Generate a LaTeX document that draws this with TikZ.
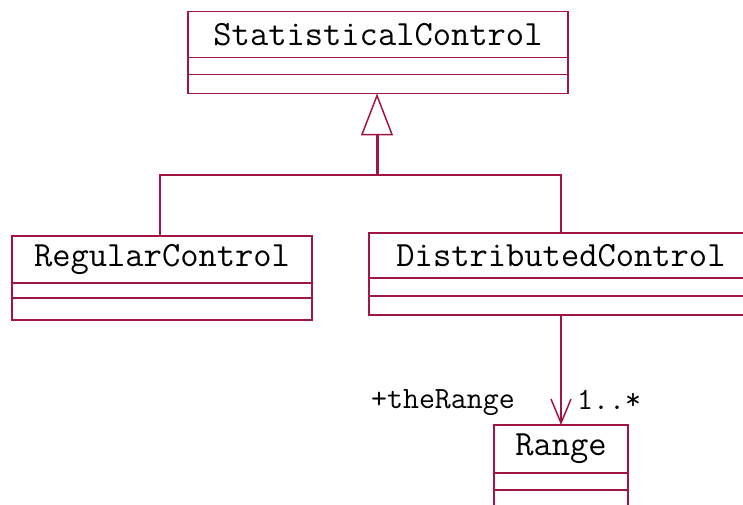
\documentclass[tikz,border=0pt]{standalone}
\usetikzlibrary{arrows.meta}
\usetikzlibrary{positioning}
\definecolor{umlred}{RGB}{160,20,70}

\begin{document}
\begin{tikzpicture}[x=1pt, y=-1pt,
	classname/.style={draw=umlred, line width=1.5pt, inner sep=0pt, outer sep=0pt,
		minimum height=46pt, font=\ttfamily\fontsize{35.5}{35.5}\selectfont},
	compart/.style={draw=umlred, line width=1.5pt, inner sep=0pt, outer sep=0pt},
	rolename/.style={inner sep=0pt, font=\ttfamily\fontsize{31}{31}\selectfont}]
	\useasboundingbox (0,0) rectangle (743,505);
	
	% classes
	\node [classname, minimum width=380pt] (sc) at (378,34.5) {StatisticalControl};
	\node [compart, minimum width=380pt, minimum height=17pt, below=0pt of sc] (sc1) {};
	\node [compart, minimum width=380pt, minimum height=19pt, below=0pt of sc1] (sc2) {};
	
	\node [classname, minimum width=300pt, minimum height=47pt] (rc) at (162,259.5) {RegularControl};
	\node [compart, minimum width=300pt, minimum height=15pt, below=0pt of rc] (rc1) {};
	\node [compart, minimum width=300pt, minimum height=22pt, below=0pt of rc1] (rc2) {};
	
	\node [classname, minimum width=384pt, minimum height=45pt] (dc) at (561,255.5) {DistributedControl};
	\node [compart, minimum width=384pt, minimum height=18pt, below=0pt of dc] (dc1) {};
	\node [compart, minimum width=384pt, minimum height=19pt, below=0pt of dc1] (dc2) {};
	
	\node [classname, minimum width=134pt, minimum height=48pt] (rg) at (561,449) {Range};
	\node [compart, minimum width=134pt, minimum height=17pt, below=0pt of rg] (rg1) {};
	\node [compart, minimum width=134pt, minimum height=22pt, below=0pt of rg1] (rg2) {};
	
	% generalization
	\coordinate (jn) at (377,175);
	\draw [umlred, line width=1.5pt] (rc.north -| 160,0) |- (jn) -| (dc.north);
	\draw [umlred, line width=3pt, -{Triangle[open, length=42pt, width=32pt, line width=1.5pt]}] (jn) -- (sc2.south -| jn);
	
	% association
	\draw [umlred, line width=1.5pt, -{Straight Barb[length=24pt, width=20pt]}] (dc2.south) -- (rg.north);
	\node [rolename, anchor=east] (role) at ([xshift=-46pt, yshift=22pt]rg.north) {+theRange};
	\node [rolename, anchor=west] (mult) at ([xshift=16pt, yshift=25pt]rg.north) {1..*};
\end{tikzpicture}
\end{document}
